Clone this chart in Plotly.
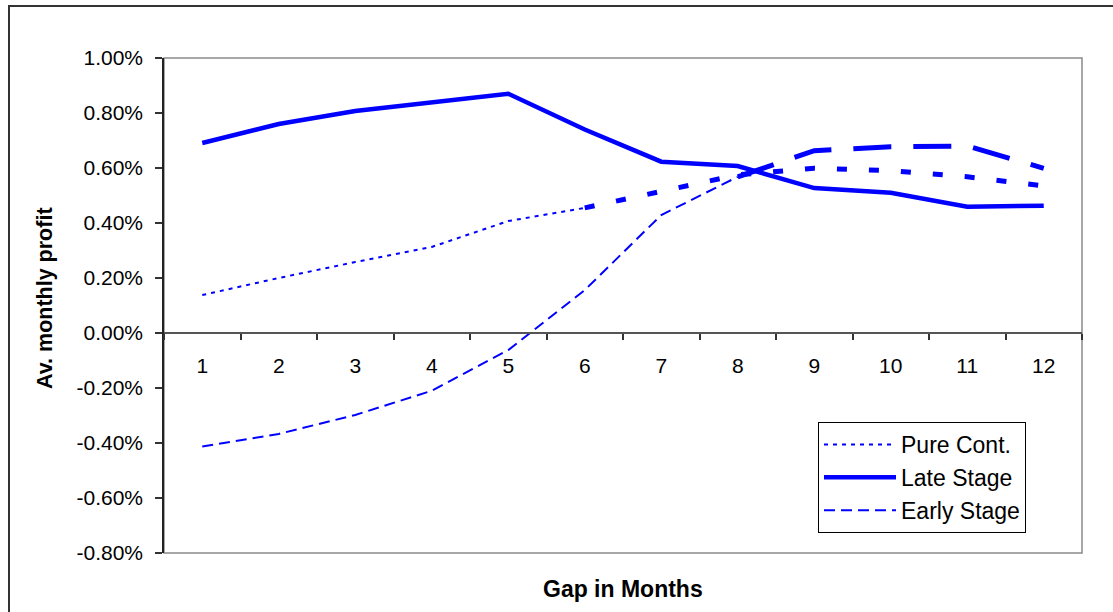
import plotly.graph_objects as go

# Gap between formation and holding period, in months
months = ["1", "2", "3", "4", "5", "6", "7", "8", "9", "10", "11", "12"]

# Average monthly profit (in %) for each strategy
pure_cont = [0.138, 0.200, 0.258, 0.313, 0.407, 0.455, 0.514, 0.575, 0.599, 0.590, 0.568, 0.535]
late_stage = [0.691, 0.760, 0.807, 0.840, 0.870, 0.740, 0.623, 0.607, 0.527, 0.510, 0.459, 0.463]
early_stage = [-0.413, -0.367, -0.298, -0.210, -0.062, 0.156, 0.429, 0.568, 0.663, 0.677, 0.680, 0.599]

# Value-axis ticks (in %)
y_ticks = [-0.8, -0.6, -0.4, -0.2, 0.0, 0.2, 0.4, 0.6, 0.8, 1.0]
y_min, y_max = y_ticks[0], y_ticks[-1]
y_labels = [f"{v:.2f}%" for v in y_ticks]

BLUE = "#0000FF"
FONT = "Liberation Sans, Arial, sans-serif"

fig = go.Figure()

# Pure continuation: thin dotted up to month 6, heavy dotted afterwards
fig.add_trace(go.Scatter(
    x=months[:6], y=pure_cont[:6], mode="lines", name="Pure Cont.",
    legendgroup="pc", legendrank=1, line=dict(color=BLUE, width=2, dash="4px,5px"),
))
fig.add_trace(go.Scatter(
    x=months[5:], y=pure_cont[5:], mode="lines", name="Pure Cont.",
    legendgroup="pc", showlegend=False,
    line=dict(color=BLUE, width=5, dash="10px,22px"),
))

# Early stage: thin dashed up to month 8, heavy dashed afterwards
fig.add_trace(go.Scatter(
    x=months[:8], y=early_stage[:8], mode="lines", name="Early Stage",
    legendgroup="es", legendrank=3, line=dict(color=BLUE, width=2, dash="11px,6px"),
))
fig.add_trace(go.Scatter(
    x=months[7:], y=early_stage[7:], mode="lines", name="Early Stage",
    legendgroup="es", showlegend=False,
    line=dict(color=BLUE, width=5, dash="38px,22px"),
))

# Late stage: heavy solid line
fig.add_trace(go.Scatter(
    x=months, y=late_stage, mode="lines", name="Late Stage",
    legendgroup="ls", legendrank=2, line=dict(color=BLUE, width=4.5),
))

fig.update_layout(
    width=1113, height=612, autosize=False,
    margin=dict(l=164, r=31, t=58, b=59, pad=0),
    paper_bgcolor="white", plot_bgcolor="white",
    font=dict(family=FONT, color="black", size=21),
    showlegend=True,
    legend=dict(
        x=(818 - 164) / 918, y=(553 - 422) / 495, xanchor="left", yanchor="top",
        bgcolor="white", bordercolor="black", borderwidth=1,
        font=dict(family=FONT, size=23, color="black"),
        itemwidth=72, tracegroupgap=1, traceorder="normal",
    ),
    xaxis=dict(
        type="category", categoryorder="array", categoryarray=months,
        range=[-0.5, len(months) - 0.5],
        anchor="free", position=(0 - y_min) / (y_max - y_min),
        showline=True, linecolor="#555555", linewidth=1.5,
        ticks="outside", tickson="boundaries", ticklen=6, tickwidth=1.5, tickcolor="#333333",
        ticklabelstandoff=14,
        showgrid=False, zeroline=False,
        tickfont=dict(family=FONT, size=21, color="black"),
    ),
    yaxis=dict(
        range=[y_min, y_max], tickmode="array", tickvals=y_ticks, ticktext=y_labels,
        showline=True, linecolor="#222222", linewidth=1.5,
        ticks="outside", ticklen=7, tickwidth=1.5, tickcolor="#333333",
        ticklabelstandoff=8,
        showgrid=False, zeroline=False,
        tickfont=dict(family=FONT, size=21, color="black"),
    ),
    shapes=[
        # plot-area frame
        dict(type="rect", xref="paper", yref="paper", x0=0, x1=1, y0=0, y1=1,
             line=dict(color="#8a8a8a", width=1.5), layer="below"),
        # chart-area frame
        dict(type="rect", xref="paper", yref="paper",
             x0=(9 - 164) / 918, x1=1.2, y0=-0.3, y1=(553 - 6) / 495,
             line=dict(color="#333333", width=2), layer="below"),
    ],
    annotations=[
        dict(text="<b>Gap in Months</b>", xref="paper", yref="paper",
             x=0.5, y=(553 - 589) / 495, xanchor="center", yanchor="middle",
             showarrow=False, font=dict(family=FONT, size=23, color="black")),
        dict(text="<b>Av. monthly profit</b>", xref="paper", yref="paper",
             x=(45 - 164) / 918, y=(553 - 298) / 495, xanchor="center", yanchor="middle",
             textangle=-90, showarrow=False, font=dict(family=FONT, size=21.5, color="black")),
    ],
)

fig.write_html("out.html")
